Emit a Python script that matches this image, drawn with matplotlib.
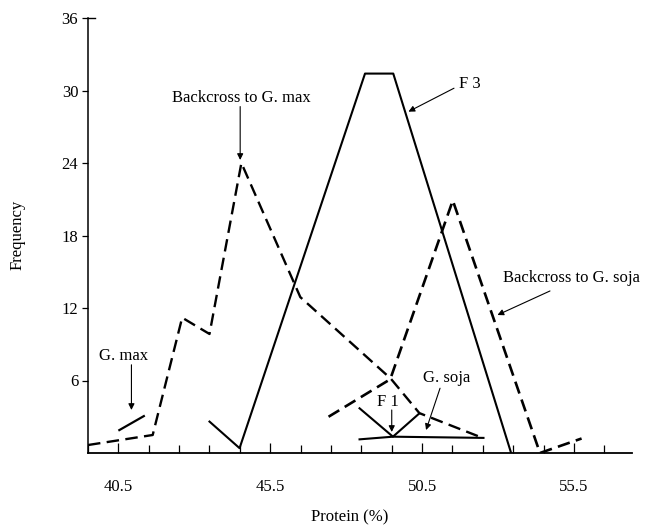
import matplotlib
matplotlib.use("Agg")
import matplotlib.pyplot as plt

plt.rcParams['font.family'] = ['Liberation Serif', 'DejaVu Serif']
plt.rcParams['lines.scale_dashes'] = False

# ---- data ----
gmax_x = [40.5, 41.37]
gmax_y = [1.85, 3.1]

bc_max_x = [39.5, 41.63, 42.6, 43.5, 44.55, 46.49, 49.47, 50.41, 52.52]
bc_max_y = [0.66, 1.49, 11.2, 9.85, 24.0, 12.9, 6.15, 3.3, 1.22]

f3_x = [43.5, 44.49, 48.62, 49.55, 53.43]
f3_y = [2.6, 0.4, 31.4, 31.4, 0.0]

bc_soja_x = [47.42, 49.45, 51.51, 54.38, 55.75]
bc_soja_y = [3.0, 6.1, 20.9, 0.0, 1.2]

f1_x = [48.44, 49.54, 50.41]
f1_y = [3.7, 1.35, 3.28]

gsoja_x = [48.44, 49.54, 52.52]
gsoja_y = [1.13, 1.35, 1.25]

x_major = [40.5, 45.5, 50.5, 55.5]
x_major_labels = ['40.5', '45.5', '50.5', '55.5']
x_minor = [v + 0.5 for v in range(39, 57)]
y_ticks = [6, 12, 18, 24, 30, 36]
y_tick_labels = ['6', '12', '18', '24', '30', '36']

fig = plt.figure(figsize=(6.54, 5.30), dpi=100)
ax = fig.add_axes([88/654, 1-453/530, (632-88)/654, (453-18)/530])

dash = (0, (9.0, 4.6))
ax.plot(bc_max_x, bc_max_y, color='black', lw=1.7, linestyle=dash)
ax.plot(bc_soja_x, bc_soja_y, color='black', lw=1.9, linestyle=dash)
ax.plot(gmax_x, gmax_y, color='black', lw=1.6, solid_capstyle='butt')
ax.plot(f3_x, f3_y, color='black', lw=1.5)
ax.plot(f1_x, f1_y, color='black', lw=1.5)
ax.plot(gsoja_x, gsoja_y, color='black', lw=1.5)

ax.set_xlim(39.5, 57.41)
ax.set_ylim(0, 36)

for s in ['top', 'right']:
    ax.spines[s].set_visible(False)
ax.spines['left'].set_linewidth(1.1)
ax.spines['bottom'].set_linewidth(1.3)

ax.set_xticks(x_minor, minor=True)
ax.set_xticks(x_major)
ax.set_xticklabels(x_major_labels, fontsize=12)
ax.tick_params(axis='x', which='both', direction='in', length=6, width=0.9, pad=19)
ax.tick_params(axis='x', which='major', length=7)
ax.set_yticks(y_ticks)
ax.set_yticklabels(y_tick_labels, fontsize=12)
ax.tick_params(axis='y', direction='out', length=4, width=0.9, pad=3)
ax.plot([0, 0.012], [1, 1], transform=ax.transAxes, color='black', lw=1.0, clip_on=False)

fig.text(18/654, 1-235/530, 'Frequency', ha='center', va='center', rotation=90, fontsize=12)
fig.text(350/654, 1-517/530, 'Protein (%)', ha='center', va='center', fontsize=12)

ap = dict(arrowstyle='-|>', color='black', lw=0.8, mutation_scale=9, shrinkA=0, shrinkB=0)
fs = 12
ax.text(44.55, 29.4, 'Backcross to G. max', ha='center', va='center', fontsize=fs)
ax.annotate('', xy=(44.51, 24.25), xytext=(44.51, 28.67), arrowprops=ap)

ax.text(52.07, 30.55, 'F 3', ha='center', va='center', fontsize=fs)
ax.annotate('', xy=(50.05, 28.25), xytext=(51.55, 30.19), arrowprops=ap)

ax.text(53.17, 14.46, 'Backcross to G. soja', ha='left', va='center', fontsize=fs)
ax.annotate('', xy=(52.98, 11.42), xytext=(54.71, 13.41), arrowprops=ap)

ax.text(51.31, 6.18, 'G. soja', ha='center', va='center', fontsize=fs)
ax.annotate('', xy=(50.63, 1.9), xytext=(51.09, 5.36), arrowprops=ap)

ax.text(49.38, 4.25, 'F 1', ha='center', va='center', fontsize=fs)
ax.annotate('', xy=(49.5, 1.74), xytext=(49.5, 3.56), arrowprops=ap)

ax.text(40.66, 8.0, 'G. max', ha='center', va='center', fontsize=fs)
ax.annotate('', xy=(40.93, 3.56), xytext=(40.93, 7.3), arrowprops=ap)

fig.savefig('out.png', dpi=100)
